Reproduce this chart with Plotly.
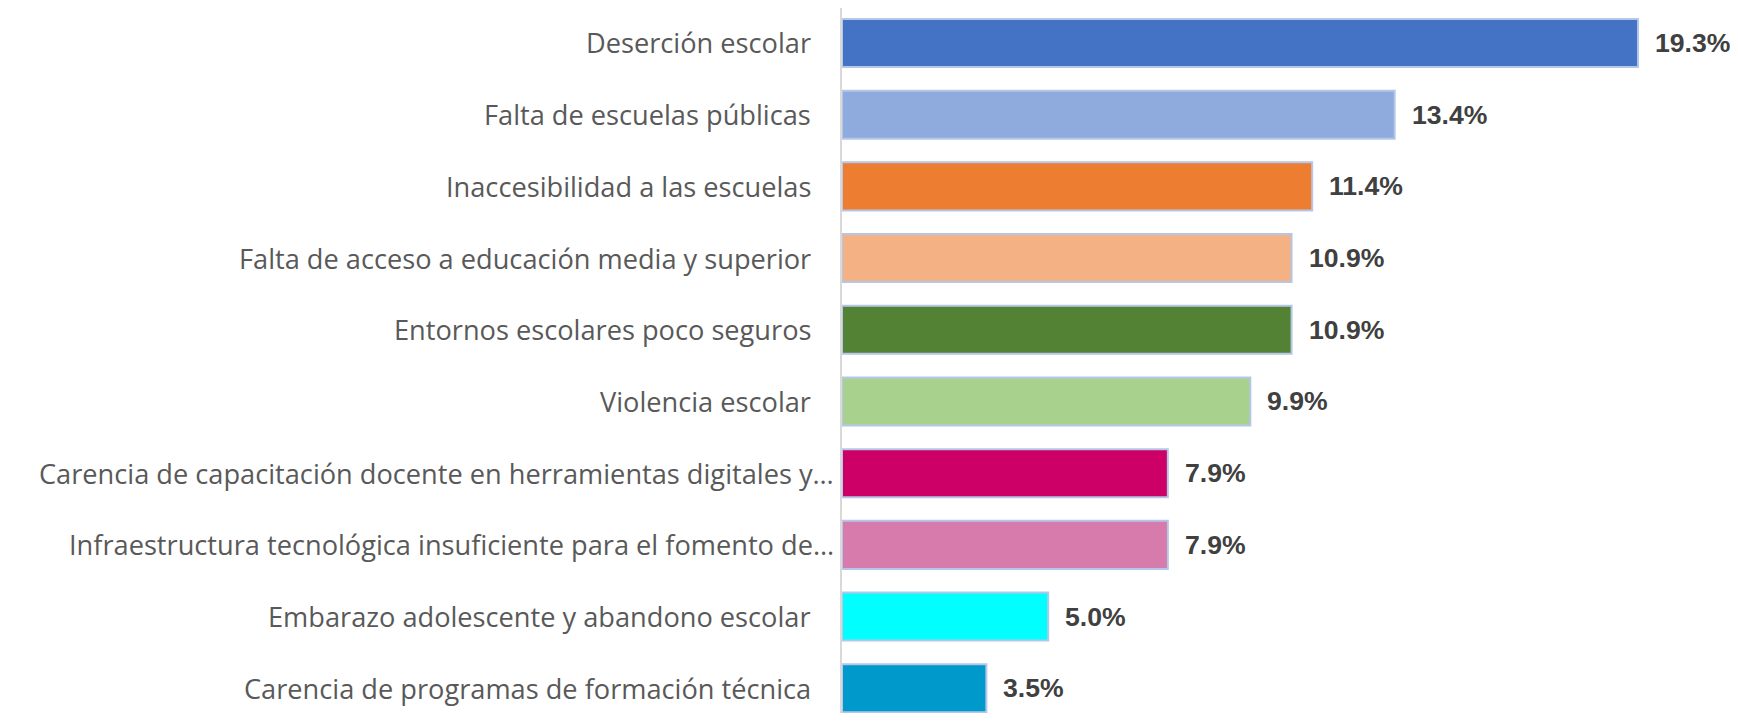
import plotly.graph_objects as go

categories = [
    "Deserción escolar",
    "Falta de escuelas públicas",
    "Inaccesibilidad a las escuelas",
    "Falta de acceso a educación media y superior",
    "Entornos escolares poco seguros",
    "Violencia escolar",
    "Carencia de capacitación docente en herramientas digitales y…",
    "Infraestructura tecnológica insuficiente para el fomento de…",
    "Embarazo adolescente y abandono escolar",
    "Carencia de programas de formación técnica",
]
values = [19.3, 13.4, 11.4, 10.9, 10.9, 9.9, 7.9, 7.9, 5.0, 3.5]
colors = ["#4472C4", "#8FAADC", "#ED7D31", "#F4B183", "#548235",
          "#A9D18E", "#CC0066", "#D77AAC", "#00FFFF", "#0099CC"]
value_labels = [f"{v:.1f}%" for v in values]

fig = go.Figure(go.Bar(
    x=values, y=categories, orientation="h",
    marker=dict(color=colors, line=dict(color="#B4C7E7", width=2)),
    width=0.67, hoverinfo="x+y",
))

# category labels (truncated ones sit closer to the axis, as in the original)
for cat in categories:
    fig.add_annotation(
        x=0, y=cat, text=cat, showarrow=False,
        xanchor="right", yanchor="middle",
        xshift=-6 if cat.endswith("…") else -29,
        font=dict(family="Open Sans", size=27.2, color="#595959"),
    )

# value labels
for cat, v, lab in zip(categories, values, value_labels):
    fig.add_annotation(
        x=v, y=cat, text=lab, showarrow=False,
        xanchor="left", yanchor="middle", xshift=15,
        font=dict(family="Liberation Sans, Arial", size=26.6, color="#404040", weight="bold"),
    )

# page body adds an 8px offset, so the figure is sized to avoid scrollbars
fig.update_layout(
    width=1722, height=705,
    margin=dict(l=834, r=0, t=0, b=0, autoexpand=False),
    plot_bgcolor="white", paper_bgcolor="white",
    showlegend=False,
)
fig.update_xaxes(range=[0, 21.53], visible=False, showgrid=False, zeroline=False)
fig.update_yaxes(
    range=[9.345, -0.488], showgrid=False, zeroline=False, automargin=False,
    showline=True, linecolor="#D9D9D9", linewidth=2,
    ticks="", showticklabels=False,
)

fig.write_html("out.html")
